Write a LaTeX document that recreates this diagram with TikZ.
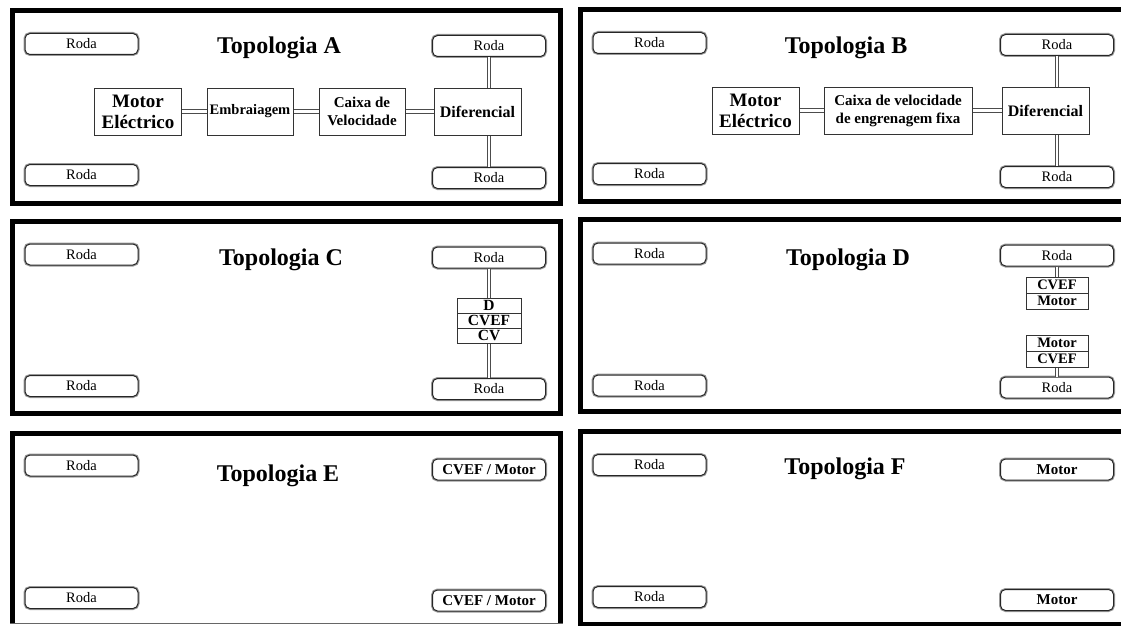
\documentclass[tikz,border=0pt]{standalone}
\usepackage{fontspec}
\setmainfont{Liberation Serif}
\begin{document}
\begin{tikzpicture}[x=1pt,y=-1pt,
  panel/.style={draw=black, line width=5pt},
  wheel/.style={draw=black!85, line width=1pt, fill=white, rounded corners=5pt,
    minimum width=113pt, minimum height=21pt, inner sep=0pt,
    font=\fontsize{14.5}{14.5}\selectfont,
    preaction={draw=black!40, line width=3pt}},
  bwheel/.style={wheel, font=\bfseries\fontsize{15}{15}\selectfont},
  ttl/.style={anchor=base, inner sep=0pt, font=\bfseries\fontsize{24}{24}\selectfont},
  blk/.style={draw=black!80, line width=1pt, fill=white, inner sep=0pt, align=center},
  cell/.style={blk, minimum width=64pt, minimum height=15pt, font=\bfseries\fontsize{15.5}{15.5}\selectfont},
  dcell/.style={blk, minimum width=62pt, minimum height=16pt, font=\bfseries\fontsize{14.5}{14.5}\selectfont},
  shaft/.style={draw=black!70, line width=1.2pt, double=white, double distance=2.2pt}
]
\useasboundingbox (0,0) rectangle (1121,626);
\fill[white] (0,0) rectangle (1121,626);

% ---------- panel frames ----------
\draw[panel] (12.5,10.5) rectangle (560.5,203.5);
\draw[panel] (580.5,9.5) rectangle (1135,201.5);
\draw[panel] (12.5,221.5) rectangle (560.5,413.5);
\draw[panel] (580.5,219.5) rectangle (1135,411.5);
\draw[panel] (12.5,623) -- (12.5,433.5) -- (560.5,433.5) -- (560.5,623);
\draw[black!60, line width=1pt] (10,623.5) -- (563,623.5);
\draw[panel] (580.5,431.5) rectangle (1135,624);

% ---------- Topologia A ----------
\node[wheel] (atl) at (81.5,44) {Roda};
\node[wheel] (atr) at (489,46) {Roda};
\node[wheel] (abl) at (81.5,175) {Roda};
\node[wheel] (abr) at (489,178) {Roda};
\node[ttl] (ta) at (279,54) {Topologia A};
\node[blk, minimum width=87pt, minimum height=47pt, font=\bfseries\fontsize{19}{21}\selectfont] (amot) at (138,111.5) {Motor\\Eléctrico};
\node[blk, minimum width=86pt, minimum height=47pt, font=\bfseries\fontsize{14.5}{18}\selectfont] (aemb) at (250,111.5) {Embraiagem};
\node[blk, minimum width=86pt, minimum height=47pt, font=\bfseries\fontsize{15}{18}\selectfont] (acx) at (362,111.5) {Caixa de\\Velocidade};
\node[blk, minimum width=87pt, minimum height=47pt, font=\bfseries\fontsize{16}{18}\selectfont] (adif) at (477.5,111.5) {Diferencial};
\draw[shaft] (amot.east) -- (aemb.west);
\draw[shaft] (aemb.east) -- (acx.west);
\draw[shaft] (acx.east) -- (adif.west);
\draw[shaft] (atr.south) -- (atr.south |- adif.north);
\draw[shaft] (abr.north) -- (abr.north |- adif.south);

% ---------- Topologia B ----------
\node[wheel] (btl) at (649.5,43) {Roda};
\node[wheel] (btr) at (1057,45) {Roda};
\node[wheel] (bbl) at (649.5,174) {Roda};
\node[wheel] (bbr) at (1057,177) {Roda};
\node[ttl] (tb) at (846,53) {Topologia B};
\node[blk, minimum width=87pt, minimum height=47pt, font=\bfseries\fontsize{19}{21}\selectfont] (bmot) at (755.5,110.5) {Motor\\Eléctrico};
\node[blk, minimum width=148pt, minimum height=47pt, font=\bfseries\fontsize{15}{18}\selectfont] (bcx) at (898,110.5) {Caixa de velocidade\\de engrenagem fixa};
\node[blk, minimum width=87pt, minimum height=47pt, font=\bfseries\fontsize{16}{18}\selectfont] (bdif) at (1045.5,110.5) {Diferencial};
\draw[shaft] (bmot.east) -- (bcx.west);
\draw[shaft] (bcx.east) -- (bdif.west);
\draw[shaft] (btr.south) -- (btr.south |- bdif.north);
\draw[shaft] (bbr.north) -- (bbr.north |- bdif.south);

% ---------- Topologia C ----------
\node[wheel] (ctl) at (81.5,254.5) {Roda};
\node[wheel] (ctr) at (489,257.5) {Roda};
\node[wheel] (cbl) at (81.5,386) {Roda};
\node[wheel] (cbr) at (489,389) {Roda};
\node[ttl] (tc) at (281,265) {Topologia C};
\node[cell] (cd) at (489,305.8) {D};
\node[cell] (ccvef) at (489,320.8) {CVEF};
\node[cell] (ccv) at (489,335.8) {CV};
\draw[shaft] (ctr.south) -- (cd.north);
\draw[shaft] (ccv.south) -- (cbr.north);

% ---------- Topologia D ----------
\node[wheel] (dtl) at (649.5,253.5) {Roda};
\node[wheel] (dtr) at (1057,255.5) {Roda};
\node[wheel] (dbl) at (649.5,385.5) {Roda};
\node[wheel] (dbr) at (1057,387.5) {Roda};
\node[ttl] (td) at (848,265.5) {Topologia D};
\node[dcell] (dcvefa) at (1057,285) {CVEF};
\node[dcell] (dmota) at (1057,301) {Motor};
\node[dcell] (dmotb) at (1057,343) {Motor};
\node[dcell] (dcvefb) at (1057,359) {CVEF};
\draw[shaft] (dtr.south) -- (dcvefa.north);
\draw[shaft] (dcvefb.south) -- (dbr.north);

% ---------- Topologia E ----------
\node[wheel] (etl) at (81.5,465.5) {Roda};
\node[bwheel] (etr) at (489,469.5) {CVEF / Motor};
\node[wheel] (ebl) at (81.5,598) {Roda};
\node[bwheel] (ebr) at (489,600.5) {CVEF / Motor};
\node[ttl] (te) at (278,481.5) {Topologia E};

% ---------- Topologia F ----------
\node[wheel] (ftl) at (649.5,465) {Roda};
\node[bwheel] (ftr) at (1057,469.5) {Motor};
\node[wheel] (fbl) at (649.5,597) {Roda};
\node[bwheel] (fbr) at (1057,600) {Motor};
\node[ttl] (tf) at (845,474.5) {Topologia F};
\end{tikzpicture}
\end{document}
